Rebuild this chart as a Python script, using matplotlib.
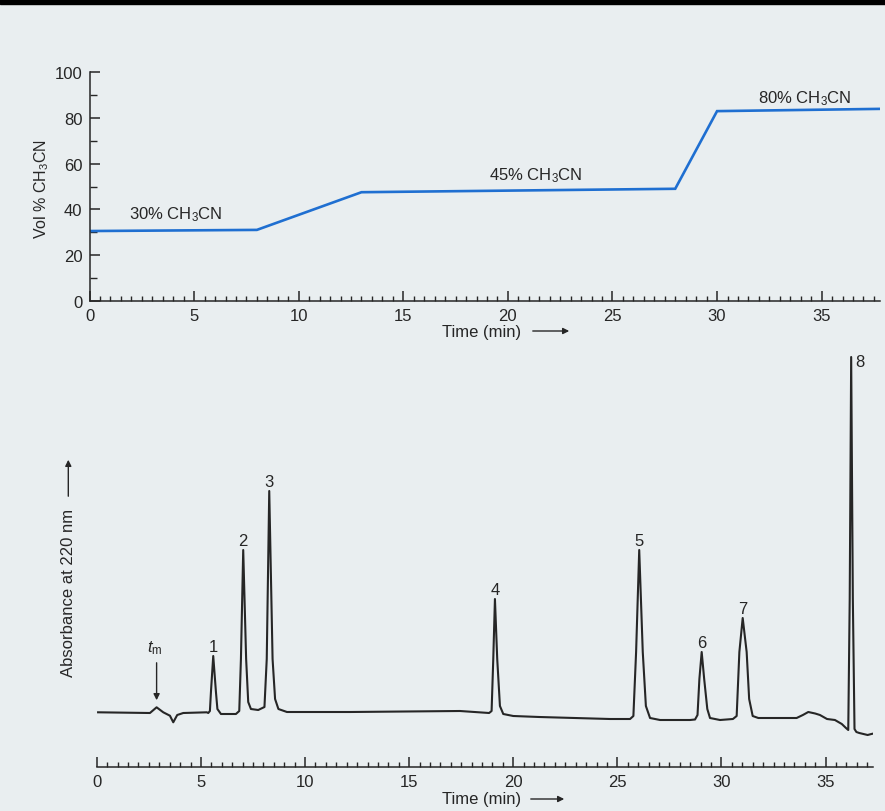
import matplotlib
matplotlib.use('Agg')
import matplotlib.pyplot as plt
from matplotlib.ticker import MultipleLocator
from matplotlib.patches import Rectangle

plt.rcParams['font.family'] = ['Liberation Sans', 'DejaVu Sans']
plt.rcParams['mathtext.fontset'] = 'custom'
plt.rcParams['mathtext.rm'] = 'Liberation Sans'
plt.rcParams['mathtext.it'] = 'Liberation Sans:italic'

# Gradiente de solvente (painel de cima)
grad_t = [0, 8, 13, 28, 30, 37.87]
grad_pct = [30.5, 31, 47.5, 49, 83, 84]
grad_labels = ['30% CH$_3$CN', '45% CH$_3$CN', '80% CH$_3$CN']
grad_label_t = [4.1, 21.35, 34.2]
grad_label_pct = [38, 55, 89]

# Cromatograma (painel de baixo), absorvancia em unidades arbitrarias
chrom_t = [0.06, 2.55, 2.87, 3.19, 3.51, 3.67, 3.86, 4.15, 5.28,
           5.35, 5.43, 5.48, 5.59, 5.72, 5.79, 5.96,
           6.68, 6.84, 6.92, 7.03, 7.17, 7.27, 7.40, 7.75,
           8.05, 8.16, 8.28, 8.44, 8.56, 8.72, 9.13,
           12.16, 17.44, 18.84, 18.96, 19.04, 19.12, 19.23, 19.36, 19.52, 20.0, 21.25,
           24.65, 25.61, 25.77, 25.90, 26.05, 26.22, 26.37, 26.57, 27.05, 28.49,
           28.73, 28.85, 28.94, 29.05, 29.17, 29.32, 29.45, 29.93, 30.55,
           30.73, 30.86, 31.02, 31.21, 31.33, 31.50, 31.77, 33.61,
           33.91, 34.17, 34.50, 34.73, 35.07, 35.45, 35.78, 35.98, 36.09,
           36.16, 36.23, 36.31, 36.39, 36.48, 36.62, 37.02, 37.20, 37.35]
chrom_abs = [1.7, 1, 6.7, 1.7, -1.7, -8.3, -1, 1, 1.7,
             1, 3, 22, 58, 22, 5, 0,
             0, 3, 55, 164, 55, 12, 5, 4,
             7, 55, 223, 55, 15, 5, 2,
             2, 3, 1, 3, 55, 115, 55, 8, 0, -2, -3,
             -5, -5, -2, 62, 164, 62, 8, -4, -6, -6,
             -5.5, -1, 35, 62, 35, 5, -4, -6, -5,
             -2, 62, 96, 62, 15, -2, -4, -4,
             -1, 2, 0.5, -1, -5, -6, -10, -14, -16,
             115, 357, 115, -15, -18, -19, -21, -20, -19.3]

peak_names = ['1', '2', '3', '4', '5', '6', '7', '8']
peak_t = [5.59, 7.03, 8.28, 19.12, 26.05, 29.05, 31.02, 36.23]
peak_abs = [58, 164, 223, 115, 164, 62, 96, 357]
tm_t = 2.87

W, H = 885, 812
bg = '#e9eef0'
ink = '#262626'
fs = 12


def fx(px):
    return px / W


def fy(py):
    return 1 - py / H


fig = plt.figure(figsize=(W / 100, H / 100), dpi=100, facecolor=bg)
fig.add_artist(Rectangle((0, fy(5)), 1, 5 / H, transform=fig.transFigure,
                         color='black', zorder=10))

# ---- painel de cima: gradiente ----
ax1 = fig.add_axes([fx(89.55), fy(301.7), 790.65 / W, 228.4 / H])
ax1.set_facecolor('none')
ax1.plot(grad_t, grad_pct, color='#1f6fd1', lw=1.9, solid_joinstyle='miter')
for lab, t, p in zip(grad_labels, grad_label_t, grad_label_pct):
    ax1.text(t, p, lab, ha='center', va='center', fontsize=fs, color=ink)
ax1.set_xlim(0, 37.8)
ax1.set_ylim(0, 100)
ax1.xaxis.set_major_locator(MultipleLocator(5))
ax1.xaxis.set_minor_locator(MultipleLocator(0.5))
ax1.yaxis.set_major_locator(MultipleLocator(20))
ax1.yaxis.set_minor_locator(MultipleLocator(10))

# ---- painel de baixo: cromatograma ----
ax2 = fig.add_axes([fx(96.85), fy(768), 776.6 / W, 413 / H])
ax2.set_facecolor('none')
ax2.plot(chrom_t, chrom_abs, color=ink, lw=1.5, solid_joinstyle='round')
for name, t, a in zip(peak_names, peak_t, peak_abs):
    if name == '8':
        ax2.annotate(name, (t, a), xytext=(3, -3), textcoords='offset points',
                     ha='left', va='center', fontsize=fs, color=ink)
    else:
        ax2.annotate(name, (t, a), xytext=(0, 1.5), textcoords='offset points',
                     ha='center', va='bottom', fontsize=fs, color=ink)
ax2.annotate('', xy=(tm_t, 11), xytext=(tm_t, 54),
             arrowprops=dict(arrowstyle='-|>', color=ink, lw=1, mutation_scale=9))
ax2.text(tm_t - 0.1, 58, '$t_\\mathrm{m}$', ha='center', va='bottom', fontsize=fs, color=ink)
ax2.set_xlim(0, 37.3)
ax2.set_ylim(-53, 360)
ax2.set_yticks([])
ax2.xaxis.set_major_locator(MultipleLocator(5))
ax2.xaxis.set_minor_locator(MultipleLocator(0.5))
ax2.spines['left'].set_visible(False)

for ax in (ax1, ax2):
    ax.spines['top'].set_visible(False)
    ax.spines['right'].set_visible(False)
    for s in ('left', 'bottom'):
        ax.spines[s].set_linewidth(1.1)
        ax.spines[s].set_color(ink)
    ax.tick_params(which='both', direction='in', color=ink, labelcolor=ink,
                   labelsize=fs, pad=5)
    ax.tick_params(which='major', length=7, width=1.1)
    ax.tick_params(which='minor', length=3.5, width=1.0)
ax1.tick_params(axis='y', which='minor', length=5)

# rotulos dos eixos
fig.text(fx(41.7), fy(189), 'Vol % CH$_3$CN', rotation=90, ha='center', va='center',
         fontsize=11.5, color=ink)
fig.text(fx(481.5), fy(332), 'Time (min)', ha='center', va='center', fontsize=fs, color=ink)
ax1.annotate('', xy=(fx(572), fy(332)), xytext=(fx(530), fy(332)), xycoords='figure fraction',
             textcoords='figure fraction',
             arrowprops=dict(arrowstyle='-|>', color=ink, lw=1, mutation_scale=9))
fig.text(fx(482), fy(800), 'Time (min)', ha='center', va='center', fontsize=fs, color=ink)
ax2.annotate('', xy=(fx(567), fy(800)), xytext=(fx(528), fy(800)), xycoords='figure fraction',
             textcoords='figure fraction',
             arrowprops=dict(arrowstyle='-|>', color=ink, lw=1, mutation_scale=9))
fig.text(fx(68.3), fy(593), 'Absorbance at 220 nm', rotation=90, ha='center', va='center',
         fontsize=fs, color=ink)
ax2.annotate('', xy=(fx(68.3), fy(458)), xytext=(fx(68.3), fy(500)), xycoords='figure fraction',
             textcoords='figure fraction',
             arrowprops=dict(arrowstyle='-|>', color=ink, lw=1, mutation_scale=9))

fig.savefig('out.png', dpi=100, facecolor=bg)
